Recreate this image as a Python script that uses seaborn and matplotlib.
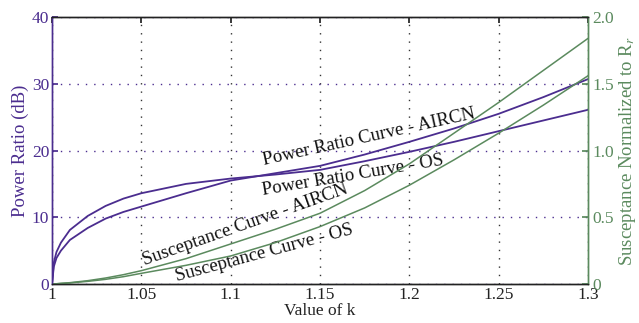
import matplotlib
matplotlib.use("Agg")
import matplotlib.pyplot as plt
import seaborn as sns
import pandas as pd

# values
k_vals = [1.0, 1.001, 1.0025, 1.005, 1.01, 1.02, 1.03, 1.04, 1.05, 1.075,
          1.1, 1.125, 1.15, 1.175, 1.2, 1.225, 1.25, 1.275, 1.3]
power_os = [0, 3.2, 4.8, 6.2, 8.1, 10.2, 11.7, 12.8, 13.6, 15.0,
            15.8, 16.4, 17.1, 18.4, 19.8, 21.3, 22.9, 24.5, 26.1]
power_aircn = [0, 2.6, 3.9, 5.0, 6.6, 8.4, 9.8, 10.8, 11.6, 13.6,
               15.5, 16.6, 17.7, 19.4, 21.3, 23.3, 25.5, 28.0, 30.7]
susc_aircn = [0, 0.0005, 0.002, 0.005, 0.01, 0.025, 0.045, 0.07, 0.10, 0.19,
              0.30, 0.41, 0.53, 0.70, 0.90, 1.13, 1.36, 1.60, 1.84]
susc_os = [0, 0.0004, 0.0015, 0.004, 0.008, 0.02, 0.035, 0.055, 0.08, 0.14,
           0.21, 0.31, 0.43, 0.57, 0.74, 0.93, 1.13, 1.34, 1.56]

x_ticks = [1, 1.05, 1.1, 1.15, 1.2, 1.25, 1.3]
x_tick_labels = ["1", "1.05", "1.1", "1.15", "1.2", "1.25", "1.3"]
left_ticks = [0, 10, 20, 30, 40]
right_ticks = [0, 0.5, 1.0, 1.5, 2.0]
right_tick_labels = ["0", "0.5", "1.0", "1.5", "2.0"]

df = pd.DataFrame({"k": k_vals, "p_os": power_os, "p_aircn": power_aircn,
                   "s_aircn": susc_aircn, "s_os": susc_os})

sns.set_theme(style="white")
plt.rcParams["font.family"] = ["Liberation Serif", "DejaVu Serif"]
plt.rcParams["mathtext.fontset"] = "stix"

purple = "#4b2d8f"
green = "#5b8a5e"
fs = 13.5
tfs = 12.5

fig = plt.figure(figsize=(6.39, 3.23), dpi=100)
ax1 = fig.add_axes([0.0814, 0.1207, 0.8388, 0.8266])
ax2 = ax1.twinx()

sns.lineplot(data=df, x="k", y="p_os", ax=ax1, color=purple, linewidth=1.3)
sns.lineplot(data=df, x="k", y="p_aircn", ax=ax1, color=purple, linewidth=1.3)
sns.lineplot(data=df, x="k", y="s_aircn", ax=ax2, color=green, linewidth=1.1)
sns.lineplot(data=df, x="k", y="s_os", ax=ax2, color=green, linewidth=1.1)

ax1.set_xlim(1, 1.3)
ax1.set_ylim(0, 40)
ax2.set_ylim(0, 2)
ax1.set_xticks(x_ticks)
ax1.set_xticklabels(x_tick_labels, fontsize=tfs)
ax1.set_yticks(left_ticks)
ax1.set_yticklabels([str(t) for t in left_ticks], fontsize=tfs, color=purple)
ax2.set_yticks(right_ticks)
ax2.set_yticklabels(right_tick_labels, fontsize=tfs, color=green)

# dotted grid, MATLAB style
ax1.grid(True, axis="x", linestyle=(0, (1, 5)), color="#333333", linewidth=1.0)
ax1.grid(True, axis="y", linestyle=(0, (1, 5)), color=purple, linewidth=1.0)
ax2.grid(False)

ax1.tick_params(axis="x", direction="in", top=True, length=4, pad=2, colors="#222222")
ax1.tick_params(axis="y", direction="in", length=4, pad=2, colors=purple)
ax2.tick_params(axis="y", direction="in", length=4, pad=3, colors=green)

for ax in (ax1, ax2):
    ax.spines["top"].set_color("#222222")
    ax.spines["bottom"].set_color("#222222")
    ax.spines["left"].set_color(purple)
    ax.spines["right"].set_color(green)
    for s in ax.spines.values():
        s.set_linewidth(1.0)

ax1.set_xlabel("Value of k", fontsize=12.5, labelpad=0, color="#222222")
ax1.set_ylabel("Power Ratio (dB)", fontsize=fs, color=purple, labelpad=2)
ax2.set_ylabel("Susceptance Normalized to R$_r$", fontsize=fs, color=green, labelpad=2)

# curve labels, anchored at the left end of their baseline
lbl = dict(fontsize=fs, ha="left", va="baseline", rotation_mode="anchor", color="#111111")
ax1.text(1.1186, 17.8, "Power Ratio Curve - AIRCN", rotation=12.5, **lbl)
ax1.text(1.1181, 13.4, "Power Ratio Curve - OS", rotation=9.5, **lbl)
ax1.text(1.052, 2.8, "Susceptance Curve - AIRCN", rotation=19.5, **lbl)
ax1.text(1.070, 0.5, "Susceptance Curve - OS", rotation=15, **lbl)

fig.savefig("out.png", dpi=100)
